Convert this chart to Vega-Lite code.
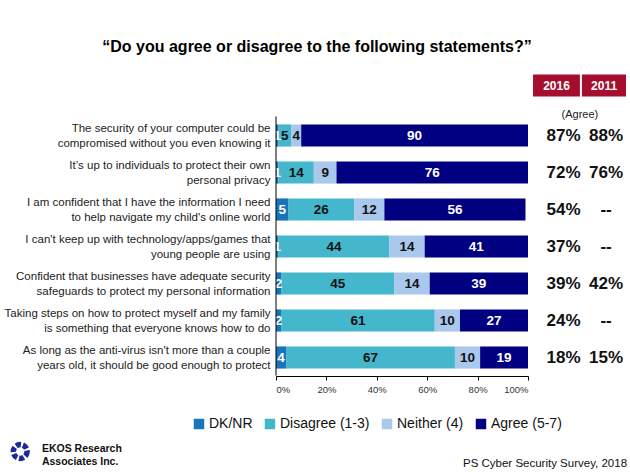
{
  "$schema": "https://vega.github.io/schema/vega-lite/v6.json",
  "width": 252,
  "height": 296,
  "autosize": {"type": "none"},
  "padding": {"left": 276, "top": 80, "right": 102, "bottom": 96},
  "background": "white",
  "config": {"view": {"stroke": null}, "font": "Liberation Sans"},
  "title": {
    "text": "“Do you agree or disagree to the following statements?”",
    "fontSize": 16,
    "font": "Liberation Sans",
    "fontWeight": "bold",
    "color": "#000",
    "anchor": "middle",
    "dx": -85,
    "offset": 19
  },
  "datasets": {
    "bars": [
      {"statement": "The security of your computer could be|compromised without you even knowing it", "cat": "DK/NR", "order": 1, "value": 1},
      {"statement": "The security of your computer could be|compromised without you even knowing it", "cat": "Disagree (1-3)", "order": 2, "value": 5},
      {"statement": "The security of your computer could be|compromised without you even knowing it", "cat": "Neither (4)", "order": 3, "value": 4},
      {"statement": "The security of your computer could be|compromised without you even knowing it", "cat": "Agree (5-7)", "order": 4, "value": 90},
      {"statement": "It’s up to individuals to protect their own|personal privacy", "cat": "DK/NR", "order": 1, "value": 1},
      {"statement": "It’s up to individuals to protect their own|personal privacy", "cat": "Disagree (1-3)", "order": 2, "value": 14},
      {"statement": "It’s up to individuals to protect their own|personal privacy", "cat": "Neither (4)", "order": 3, "value": 9},
      {"statement": "It’s up to individuals to protect their own|personal privacy", "cat": "Agree (5-7)", "order": 4, "value": 76},
      {"statement": "I am confident that I have the information I need|to help navigate my child's online world", "cat": "DK/NR", "order": 1, "value": 5},
      {"statement": "I am confident that I have the information I need|to help navigate my child's online world", "cat": "Disagree (1-3)", "order": 2, "value": 26},
      {"statement": "I am confident that I have the information I need|to help navigate my child's online world", "cat": "Neither (4)", "order": 3, "value": 12},
      {"statement": "I am confident that I have the information I need|to help navigate my child's online world", "cat": "Agree (5-7)", "order": 4, "value": 56},
      {"statement": "I can't keep up with technology/apps/games  that|young people  are using", "cat": "DK/NR", "order": 1, "value": 1},
      {"statement": "I can't keep up with technology/apps/games  that|young people  are using", "cat": "Disagree (1-3)", "order": 2, "value": 44},
      {"statement": "I can't keep up with technology/apps/games  that|young people  are using", "cat": "Neither (4)", "order": 3, "value": 14},
      {"statement": "I can't keep up with technology/apps/games  that|young people  are using", "cat": "Agree (5-7)", "order": 4, "value": 41},
      {"statement": "Confident that businesses have adequate security|safeguards to protect my personal information", "cat": "DK/NR", "order": 1, "value": 2},
      {"statement": "Confident that businesses have adequate security|safeguards to protect my personal information", "cat": "Disagree (1-3)", "order": 2, "value": 45},
      {"statement": "Confident that businesses have adequate security|safeguards to protect my personal information", "cat": "Neither (4)", "order": 3, "value": 14},
      {"statement": "Confident that businesses have adequate security|safeguards to protect my personal information", "cat": "Agree (5-7)", "order": 4, "value": 39},
      {"statement": "Taking steps on how to protect myself and my family|is something that everyone knows how to do", "cat": "DK/NR", "order": 1, "value": 2},
      {"statement": "Taking steps on how to protect myself and my family|is something that everyone knows how to do", "cat": "Disagree (1-3)", "order": 2, "value": 61},
      {"statement": "Taking steps on how to protect myself and my family|is something that everyone knows how to do", "cat": "Neither (4)", "order": 3, "value": 10},
      {"statement": "Taking steps on how to protect myself and my family|is something that everyone knows how to do", "cat": "Agree (5-7)", "order": 4, "value": 27},
      {"statement": "As long as the anti-virus isn't more than a couple|years old, it should be good enough to protect", "cat": "DK/NR", "order": 1, "value": 4},
      {"statement": "As long as the anti-virus isn't more than a couple|years old, it should be good enough to protect", "cat": "Disagree (1-3)", "order": 2, "value": 67},
      {"statement": "As long as the anti-virus isn't more than a couple|years old, it should be good enough to protect", "cat": "Neither (4)", "order": 3, "value": 10},
      {"statement": "As long as the anti-virus isn't more than a couple|years old, it should be good enough to protect", "cat": "Agree (5-7)", "order": 4, "value": 19}
    ],
    "agree": [
      {"statement": "The security of your computer could be|compromised without you even knowing it", "a2016": "87%", "a2011": "88%"},
      {"statement": "It’s up to individuals to protect their own|personal privacy", "a2016": "72%", "a2011": "76%"},
      {"statement": "I am confident that I have the information I need|to help navigate my child's online world", "a2016": "54%", "a2011": "--"},
      {"statement": "I can't keep up with technology/apps/games  that|young people  are using", "a2016": "37%", "a2011": "--"},
      {"statement": "Confident that businesses have adequate security|safeguards to protect my personal information", "a2016": "39%", "a2011": "42%"},
      {"statement": "Taking steps on how to protect myself and my family|is something that everyone knows how to do", "a2016": "24%", "a2011": "--"},
      {"statement": "As long as the anti-virus isn't more than a couple|years old, it should be good enough to protect", "a2016": "18%", "a2011": "15%"}
    ]
  },
  "layer": [
    {
      "data": {"name": "bars"},
      "transform": [
        {"stack": "value", "groupby": ["statement"], "sort": [{"field": "order"}], "as": ["x0", "x1"]}
      ],
      "mark": {"type": "bar"},
      "encoding": {
        "y": {
          "field": "statement",
          "type": "nominal",
          "scale": {
            "domain": [
              "hdr",
              "The security of your computer could be|compromised without you even knowing it",
              "It’s up to individuals to protect their own|personal privacy",
              "I am confident that I have the information I need|to help navigate my child's online world",
              "I can't keep up with technology/apps/games  that|young people  are using",
              "Confident that businesses have adequate security|safeguards to protect my personal information",
              "Taking steps on how to protect myself and my family|is something that everyone knows how to do",
              "As long as the anti-virus isn't more than a couple|years old, it should be good enough to protect"
            ],
            "paddingInner": 0.4,
            "paddingOuter": 0.2
          },
          "axis": {
            "title": null,
            "domain": false,
            "ticks": false,
            "labelExpr": "datum.value == 'hdr' ? '' : split(datum.value, '|')",
            "labelFont": "Liberation Sans",
            "labelFontSize": 11.5,
            "labelColor": "#222",
            "labelPadding": 6,
            "labelLimit": 400,
            "labelLineHeight": 15,
            "labelOffset": -7
          }
        },
        "x": {
          "field": "x0",
          "type": "quantitative",
          "scale": {"domain": [0, 100], "nice": false},
          "axis": {
            "title": null,
            "grid": false,
            "values": [0, 20, 40, 60, 80, 100],
            "labelExpr": "datum.value + '%'",
            "domainColor": "#000",
            "tickColor": "#000",
            "tickSize": 4,
            "labelFontSize": 9.5,
            "labelColor": "#333",
            "labelPadding": 4
          }
        },
        "x2": {"field": "x1"},
        "color": {
          "field": "cat",
          "type": "nominal",
          "scale": {
            "domain": ["DK/NR", "Disagree (1-3)", "Neither (4)", "Agree (5-7)"],
            "range": ["#1a75b8", "#45b7cd", "#a9c8ec", "#000080"]
          },
          "legend": {
            "orient": "none",
            "legendX": -84,
            "legendY": 337,
            "direction": "horizontal",
            "title": null,
            "symbolType": "square",
            "symbolSize": 110,
            "symbolStrokeWidth": 0,
            "labelFontSize": 14,
            "labelFont": "Liberation Sans",
            "labelColor": "#111",
            "columnPadding": 10,
            "labelOffset": 3
          }
        }
      }
    },
    {
      "data": {"name": "bars"},
      "transform": [
        {"stack": "value", "groupby": ["statement"], "sort": [{"field": "order"}], "as": ["x0", "x1"]},
        {"calculate": "(datum.x0 + datum.x1) / 2", "as": "mid"}
      ],
      "mark": {"type": "text", "fontWeight": "bold", "fontSize": 13.5, "font": "Liberation Sans"},
      "encoding": {
        "y": {"field": "statement", "type": "nominal"},
        "x": {"field": "mid", "type": "quantitative"},
        "text": {"field": "value", "type": "quantitative"},
        "color": {
          "condition": {"test": "datum.cat == 'DK/NR' || datum.cat == 'Agree (5-7)'", "value": "white"},
          "value": "#111"
        }
      }
    },
    {
      "data": {"name": "agree"},
      "mark": {"type": "text", "fontWeight": "bold", "fontSize": 17, "font": "Liberation Sans", "color": "#111"},
      "encoding": {
        "y": {"field": "statement", "type": "nominal"},
        "x": {"datum": 114.1},
        "text": {"field": "a2016"}
      }
    },
    {
      "data": {"name": "agree"},
      "mark": {"type": "text", "fontWeight": "bold", "fontSize": 17, "font": "Liberation Sans", "color": "#111"},
      "encoding": {
        "y": {"field": "statement", "type": "nominal"},
        "x": {"datum": 131},
        "text": {"field": "a2011"}
      }
    },
    {
      "data": {"values": [{"t": "2016"}]},
      "mark": {"type": "rect", "color": "#a50f2d", "yOffset": -13},
      "encoding": {
        "x": {"datum": 102},
        "x2": {"datum": 120.6},
        "y": {"datum": "hdr"}
      }
    },
    {
      "data": {"values": [{"t": "2011"}]},
      "mark": {"type": "rect", "color": "#a50f2d", "yOffset": -13},
      "encoding": {
        "x": {"datum": 121.4},
        "x2": {"datum": 138.9},
        "y": {"datum": "hdr"}
      }
    },
    {
      "data": {"values": [{"t": "2016"}]},
      "mark": {"type": "text", "color": "white", "fontWeight": "bold", "fontSize": 12, "font": "Liberation Sans", "yOffset": -13},
      "encoding": {
        "x": {"datum": 111.3},
        "y": {"datum": "hdr"},
        "text": {"field": "t"}
      }
    },
    {
      "data": {"values": [{"t": "2011"}]},
      "mark": {"type": "text", "color": "white", "fontWeight": "bold", "fontSize": 12, "font": "Liberation Sans", "yOffset": -13},
      "encoding": {
        "x": {"datum": 130.2},
        "y": {"datum": "hdr"},
        "text": {"field": "t"}
      }
    },
    {
      "data": {"values": [{"t": "(Agree)"}]},
      "mark": {"type": "text", "color": "#222", "fontSize": 11, "font": "Liberation Sans", "yOffset": 16},
      "encoding": {
        "x": {"datum": 120.6},
        "y": {"datum": "hdr"},
        "text": {"field": "t"}
      }
    },
    {
      "data": {"values": [{}]},
      "mark": {"type": "rule", "color": "#000", "yOffset": -8, "y2Offset": 7},
      "encoding": {
        "x": {"datum": 0},
        "y": {"datum": "The security of your computer could be|compromised without you even knowing it", "bandPosition": 0},
        "y2": {"datum": "As long as the anti-virus isn't more than a couple|years old, it should be good enough to protect", "bandPosition": 1}
      }
    },
    {
      "data": {"values": [{"t": "PS Cyber Security Survey, 2018"}]},
      "mark": {"type": "text", "color": "#111", "fontSize": 11.5, "font": "Liberation Sans", "align": "right", "yOffset": 106},
      "encoding": {
        "x": {"datum": 139.3},
        "y": {"datum": "As long as the anti-virus isn't more than a couple|years old, it should be good enough to protect"},
        "text": {"field": "t"}
      }
    },
    {
      "data": {"values": [{"t": "EKOS Research|Associates Inc."}]},
      "mark": {"type": "text", "color": "#111", "fontSize": 10.5, "fontWeight": "bold", "font": "Liberation Sans", "align": "left", "lineBreak": "|", "lineHeight": 13, "yOffset": 91},
      "encoding": {
        "x": {"datum": -92.9},
        "y": {"datum": "As long as the anti-virus isn't more than a couple|years old, it should be good enough to protect"},
        "text": {"field": "t"}
      }
    },
    {
      "data": {"values": [{"t": "logo"}]},
      "mark": {"type": "point", "shape": "circle", "filled": false, "stroke": "#1a2a9a", "strokeWidth": 5.5, "size": 190, "strokeDash": [5, 2], "opacity": 1, "yOffset": 94},
      "encoding": {
        "x": {"datum": -101.5},
        "y": {"datum": "As long as the anti-virus isn't more than a couple|years old, it should be good enough to protect"}
      }
    }
  ]
}
